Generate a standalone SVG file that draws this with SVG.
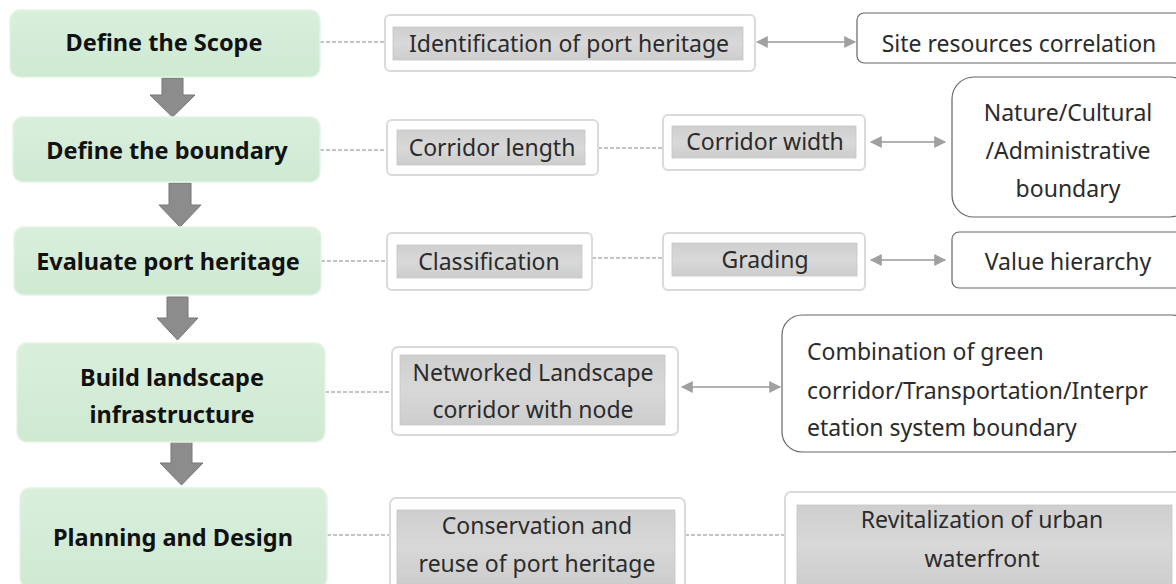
<svg xmlns="http://www.w3.org/2000/svg" width="1176" height="584" viewBox="0 0 1176 584">
<defs>
<linearGradient id="gGreen" x1="0" y1="0" x2="0" y2="1">
<stop offset="0" stop-color="#d9efdc"/><stop offset="1" stop-color="#cfe9d2"/>
</linearGradient>
<linearGradient id="gGray" x1="0" y1="0" x2="0" y2="1">
<stop offset="0" stop-color="#cfcfcf"/><stop offset="0.5" stop-color="#d8d8d8"/><stop offset="1" stop-color="#cdcdcd"/>
</linearGradient>
<marker id="ah" viewBox="0 0 10 10" refX="9" refY="5" markerWidth="14" markerHeight="12" markerUnits="userSpaceOnUse" orient="auto-start-reverse">
<path d="M0,0 L10,5 L0,10 z" fill="#a0a0a0"/>
</marker>
</defs>
<style>
.green{fill:url(#gGreen);stroke:#e4f3e6;stroke-width:1.5}
.gt{font-family:"Noto Sans","Open Sans",sans-serif;font-weight:bold;font-size:23.5px;fill:#111;text-anchor:middle;dominant-baseline:central}
.outer{fill:#fff;stroke:#dadada;stroke-width:2}
.inner{fill:url(#gGray);stroke:#c6c6c6;stroke-width:0.8}
.wbox{fill:#fff;stroke:#666;stroke-width:1.2}
.t{font-family:"Noto Sans","Open Sans",sans-serif;font-size:23px;fill:#2b2b2b;text-anchor:middle;dominant-baseline:central}
.tl{font-family:"Noto Sans","Open Sans",sans-serif;font-size:23px;fill:#2b2b2b;dominant-baseline:central}
.dash{stroke:#888;stroke-width:1.2;stroke-dasharray:4 2;fill:none}
.dbl{stroke:#999;stroke-width:1.3;fill:none;marker-start:url(#ah);marker-end:url(#ah)}
.down{fill:#8c8c8c;stroke:#777;stroke-width:1}
</style>

<g id="connectors">
<line class="dash" x1="320" y1="42" x2="385" y2="42"/>
<line class="dash" x1="320" y1="150" x2="387" y2="150"/>
<line class="dash" x1="598" y1="148" x2="663" y2="148"/>
<line class="dash" x1="321" y1="261" x2="387" y2="261"/>
<line class="dash" x1="592" y1="258" x2="663" y2="258"/>
<line class="dash" x1="325" y1="392" x2="392" y2="392"/>
<line class="dash" x1="327" y1="535" x2="390" y2="535"/>
<line class="dash" x1="685" y1="535" x2="785" y2="535"/>
<line class="dbl" x1="757" y1="42" x2="855" y2="42"/>
<line class="dbl" x1="871" y1="142" x2="945" y2="142"/>
<line class="dbl" x1="871" y1="260" x2="945" y2="260"/>
<line class="dbl" x1="682" y1="387" x2="780" y2="387"/>
<path class="down" d="M162,78 H183 V95 H195 L172.5,117 L150,95 H162 Z"/>
<path class="down" d="M169,183 H191 V205 H201 L180,227 L159,205 H169 Z"/>
<path class="down" d="M167,297 H188 V318 H198 L177.5,340 L157,318 H167 Z"/>
<path class="down" d="M171,442 H192 V463 H203 L181.5,485 L160,463 H171 Z"/>
</g>

<g id="n-scope">
<rect class="green" x="10" y="10" width="310" height="67" rx="10"/>
<text class="gt" x="164" y="42">Define the Scope</text>
</g>
<g id="n-boundary">
<rect class="green" x="13" y="117" width="307" height="65" rx="10"/>
<text class="gt" x="167" y="150">Define the boundary</text>
</g>
<g id="n-evaluate">
<rect class="green" x="14" y="227" width="307" height="68" rx="10"/>
<text class="gt" x="168" y="261">Evaluate port heritage</text>
</g>
<g id="n-build">
<rect class="green" x="17" y="343" width="308" height="99" rx="10"/>
<text class="gt" x="172" y="377">Build landscape</text>
<text class="gt" x="172" y="414">infrastructure</text>
</g>
<g id="n-planning">
<rect class="green" x="20" y="488" width="307" height="100" rx="10"/>
<text class="gt" x="173" y="537">Planning and Design</text>
</g>

<g id="n-identification">
<rect class="outer" x="385" y="15" width="370" height="56" rx="5"/>
<rect class="inner" x="393" y="27" width="350" height="33"/>
<text class="t" x="569" y="43">Identification of port heritage</text>
</g>
<g id="n-site">
<rect class="wbox" x="857" y="13" width="330" height="50" rx="7"/>
<text class="t" x="1019" y="43">Site resources correlation</text>
</g>
<g id="n-length">
<rect class="outer" x="387" y="120" width="211" height="55" rx="5"/>
<rect class="inner" x="397" y="130" width="188" height="35"/>
<text class="t" x="492" y="147">Corridor length</text>
</g>
<g id="n-width">
<rect class="outer" x="663" y="115" width="202" height="55" rx="5"/>
<rect class="inner" x="672" y="126" width="184" height="32"/>
<text class="t" x="765" y="141">Corridor width</text>
</g>
<g id="n-nature">
<rect class="wbox" x="952" y="77" width="240" height="140" rx="22"/>
<text class="t" x="1068" y="112">Nature/Cultural</text>
<text class="t" x="1068" y="150">/Administrative</text>
<text class="t" x="1068" y="188">boundary</text>
</g>
<g id="n-classification">
<rect class="outer" x="387" y="233" width="205" height="57" rx="5"/>
<rect class="inner" x="397" y="245" width="185" height="33"/>
<text class="t" x="489" y="261">Classification</text>
</g>
<g id="n-grading">
<rect class="outer" x="663" y="233" width="202" height="57" rx="5"/>
<rect class="inner" x="672" y="243" width="185" height="33"/>
<text class="t" x="765" y="259">Grading</text>
</g>
<g id="n-value">
<rect class="wbox" x="952" y="232" width="240" height="56" rx="7"/>
<text class="t" x="1068" y="261">Value hierarchy</text>
</g>
<g id="n-networked">
<rect class="outer" x="392" y="347" width="286" height="88" rx="6"/>
<rect class="inner" x="400" y="355" width="265" height="70"/>
<text class="t" x="533" y="372">Networked Landscape</text>
<text class="t" x="533" y="409">corridor with node</text>
</g>
<g id="n-combination">
<rect class="wbox" x="782" y="315" width="410" height="137" rx="20"/>
<text class="tl" x="807" y="351">Combination of green</text>
<text class="tl" x="807" y="390">corridor/Transportation/Interpr</text>
<text class="tl" x="807" y="427">etation system boundary</text>
</g>
<g id="n-conservation">
<rect class="outer" x="390" y="498" width="295" height="95" rx="6"/>
<rect class="inner" x="397" y="510" width="278" height="74"/>
<text class="t" x="537" y="525">Conservation and</text>
<text class="t" x="537" y="563">reuse of port heritage</text>
</g>
<g id="n-revitalization">
<rect class="outer" x="785" y="492" width="400" height="100" rx="6"/>
<rect class="inner" x="797" y="505" width="375" height="80"/>
<text class="t" x="982" y="519">Revitalization of urban</text>
<text class="t" x="982" y="558">waterfront</text>
</g>
</svg>
